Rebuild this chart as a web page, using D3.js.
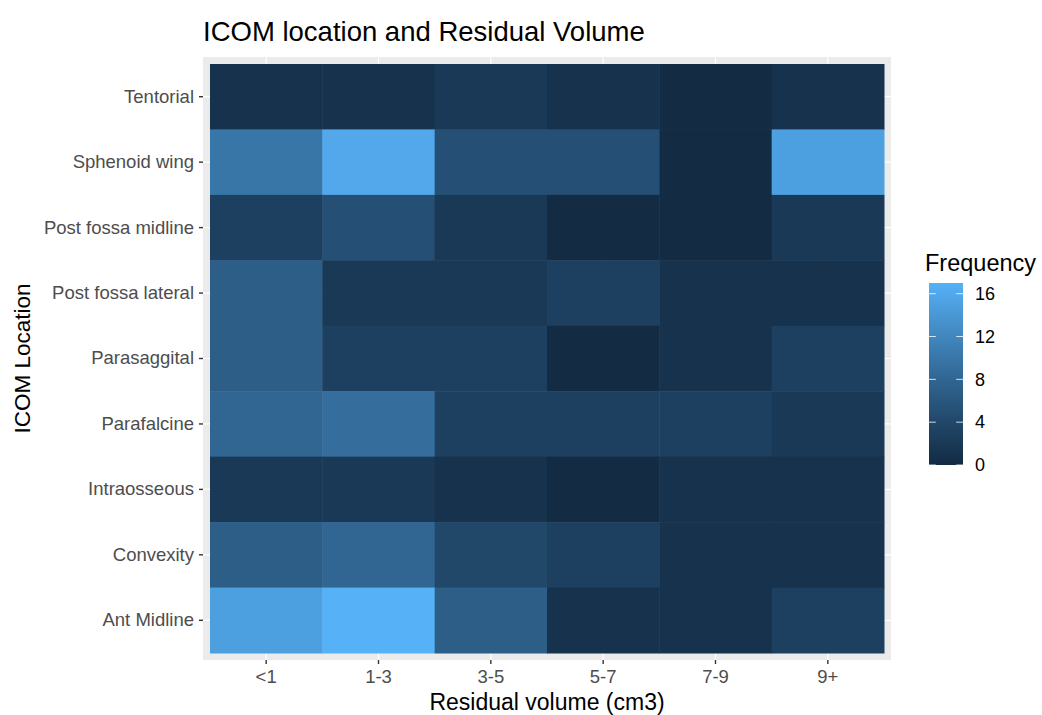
<!DOCTYPE html>
<html>
<head>
<meta charset="utf-8">
<script src="https://cdn.jsdelivr.net/npm/d3@7/dist/d3.min.js"></script>
<style>
  html, body { margin: 0; padding: 0; background: #fff; }
  svg { display: block; font-family: "Liberation Sans", Arial, sans-serif; }
</style>
</head>
<body>
<svg id="chart" width="1042" height="715"></svg>
<script>
// Residual volume bins (x) and ICOM locations (y, top to bottom)
const volumeBins = ["<1", "1-3", "3-5", "5-7", "7-9", "9+"];
const locations = ["Tentorial", "Sphenoid wing", "Post fossa midline", "Post fossa lateral",
                   "Parasaggital", "Parafalcine", "Intraosseous", "Convexity", "Ant Midline"];

// Frequency per location, one value per volume bin
const tentorial        = [1, 1, 2, 1, 0, 1];
const sphenoidWing     = [10, 16, 5, 5, 0, 15];
const postFossaMidline = [3, 5, 2, 0, 0, 2];
const postFossaLateral = [7, 2, 2, 3, 1, 1];
const parasaggital     = [7, 3, 3, 0, 1, 3];
const parafalcine      = [8, 9, 3, 3, 3, 2];
const intraosseous     = [2, 2, 1, 0, 1, 1];
const convexity        = [7, 8, 4, 3, 1, 1];
const antMidline       = [15, 17, 7, 1, 1, 3];

const legendTicks = [0, 4, 8, 12, 16];

const rows = [tentorial, sphenoidWing, postFossaMidline, postFossaLateral,
              parasaggital, parafalcine, intraosseous, convexity, antMidline];
const cells = [];
locations.forEach((loc, i) => {
  volumeBins.forEach((bin, j) => cells.push({ loc, bin, value: rows[i][j] }));
});

const FONT = "'Liberation Sans', Arial, sans-serif";
const svg = d3.select("#chart");

// Panel geometry
const panel = { left: 203, right: 891, top: 57, bottom: 660 };
const pad = 7;

const x = d3.scaleBand().domain(volumeBins)
  .range([panel.left + pad, panel.right - pad]).padding(0);
const y = d3.scaleBand().domain(locations)
  .range([panel.top + pad, panel.bottom - pad]).padding(0);

const maxVal = d3.max(cells, d => d.value);
const color = d3.scaleSequential(d3.interpolateLab("#132B43", "#56B1F7")).domain([0, maxVal]);

// Panel background
svg.append("rect")
  .attr("x", panel.left).attr("y", panel.top)
  .attr("width", panel.right - panel.left).attr("height", panel.bottom - panel.top)
  .attr("fill", "#EBEBEB");

// Major grid lines
svg.append("g").selectAll("line").data(volumeBins).join("line")
  .attr("x1", d => x(d) + x.bandwidth() / 2).attr("x2", d => x(d) + x.bandwidth() / 2)
  .attr("y1", panel.top).attr("y2", panel.bottom)
  .attr("stroke", "#fff").attr("stroke-width", 1.2);
svg.append("g").selectAll("line").data(locations).join("line")
  .attr("y1", d => y(d) + y.bandwidth() / 2).attr("y2", d => y(d) + y.bandwidth() / 2)
  .attr("x1", panel.left).attr("x2", panel.right)
  .attr("stroke", "#fff").attr("stroke-width", 1.2);

// Tiles
svg.append("g").selectAll("rect").data(cells).join("rect")
  .attr("x", d => x(d.bin)).attr("y", d => y(d.loc))
  .attr("width", x.bandwidth() + 0.5).attr("height", y.bandwidth() + 0.5)
  .attr("fill", d => color(d.value));

// Axes
const xAxis = d3.axisBottom(x).tickSize(4).tickPadding(6);
const gx = svg.append("g").attr("transform", `translate(0,${panel.bottom})`).call(xAxis);
gx.select(".domain").remove();
gx.selectAll(".tick line").attr("stroke", "#333").attr("stroke-width", 1.4);
gx.selectAll(".tick text").attr("fill", "#4D4D4D").style("font-size", "18.5px")
  .style("font-family", FONT);

const yAxis = d3.axisLeft(y).tickSize(4).tickPadding(5);
const gy = svg.append("g").attr("transform", `translate(${panel.left},0)`).call(yAxis);
gy.select(".domain").remove();
gy.selectAll(".tick line").attr("stroke", "#333").attr("stroke-width", 1.4);
gy.selectAll(".tick text").attr("fill", "#4D4D4D").style("font-size", "18.5px")
  .style("font-family", FONT);

// Titles
svg.append("text").attr("x", 203).attr("y", 41)
  .style("font-size", "27.5px").attr("fill", "#000")
  .text("ICOM location and Residual Volume");

svg.append("text").attr("x", (panel.left + panel.right) / 2).attr("y", 710)
  .attr("text-anchor", "middle").style("font-size", "23px").attr("fill", "#000")
  .text("Residual volume (cm3)");

svg.append("text")
  .attr("transform", `translate(30,${(panel.top + panel.bottom) / 2}) rotate(-90)`)
  .attr("text-anchor", "middle").style("font-size", "22.5px").attr("fill", "#000")
  .text("ICOM Location");

// Colour bar legend
const bar = { x: 929, w: 34, top: 283, bottom: 465 };
const legendScale = d3.scaleLinear().domain([0, maxVal]).range([bar.bottom, bar.top]);

svg.append("text").attr("x", 925).attr("y", 271)
  .style("font-size", "23.5px").attr("fill", "#000").text("Frequency");

const defs = svg.append("defs");
const grad = defs.append("linearGradient").attr("id", "freqGrad")
  .attr("x1", 0).attr("y1", 1).attr("x2", 0).attr("y2", 0);
d3.range(0, 1.0001, 0.05).forEach(t => {
  grad.append("stop").attr("offset", t).attr("stop-color", color(t * maxVal));
});
svg.append("rect").attr("x", bar.x).attr("y", bar.top)
  .attr("width", bar.w).attr("height", bar.bottom - bar.top)
  .attr("fill", "url(#freqGrad)");

const lt = svg.append("g");
legendTicks.forEach(v => {
  const yy = legendScale(v);
  lt.append("line").attr("x1", bar.x).attr("x2", bar.x + bar.w * 0.2)
    .attr("y1", yy).attr("y2", yy).attr("stroke", "#fff").attr("stroke-opacity", 0.8);
  lt.append("line").attr("x1", bar.x + bar.w * 0.8).attr("x2", bar.x + bar.w)
    .attr("y1", yy).attr("y2", yy).attr("stroke", "#fff").attr("stroke-opacity", 0.8);
  lt.append("text").attr("x", bar.x + bar.w + 12).attr("y", yy)
    .attr("dy", "0.35em").style("font-size", "18px").attr("fill", "#000").text(v);
});
</script>
</body>
</html>
